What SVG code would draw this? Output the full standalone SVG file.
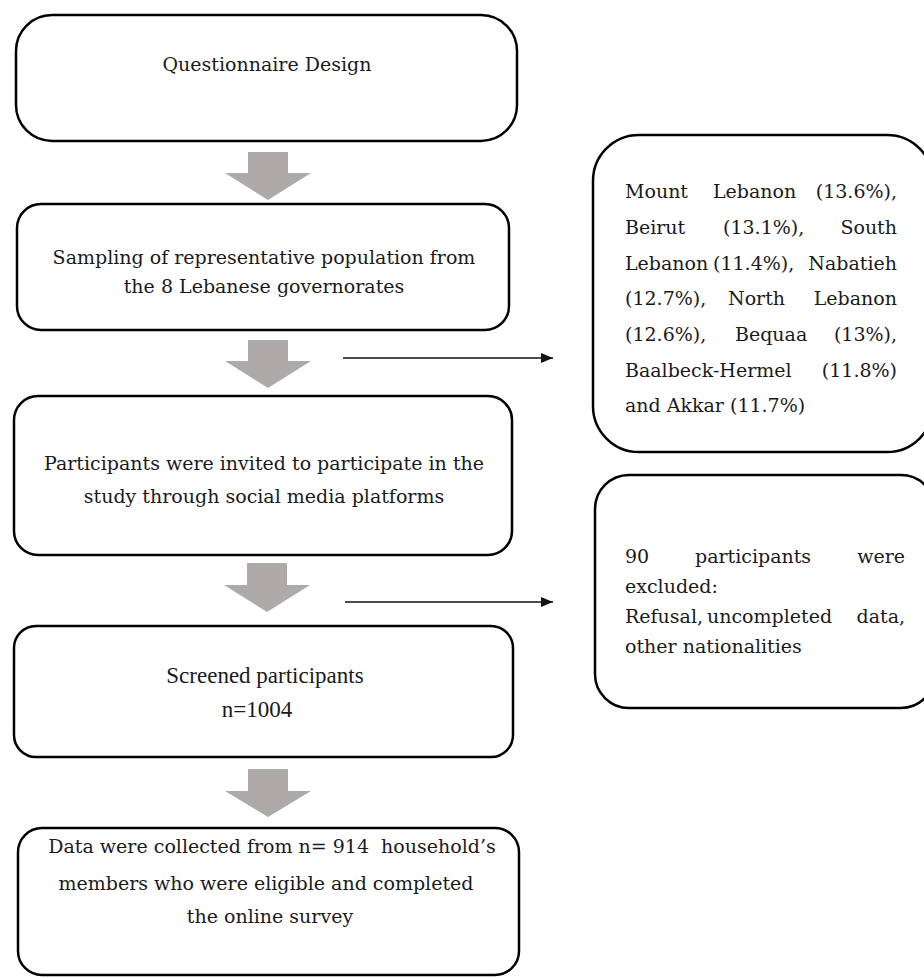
<svg xmlns="http://www.w3.org/2000/svg" width="924" height="978" viewBox="0 0 924 978">
<defs>
<marker id="ah" markerWidth="12" markerHeight="10" refX="12" refY="5" orient="auto" markerUnits="userSpaceOnUse">
<path d="M0,0 L12,5 L0,10 Z" fill="#111"/>
</marker>
<style>
.box{fill:#fff;stroke:#000;stroke-width:2.5}
.t{font-family:"DejaVu Serif",serif;font-size:19px;fill:#1a1a1a}
.tm{font-family:"Liberation Serif",serif;font-size:23px;fill:#1a1a1a}
.c{text-anchor:middle}
.e{text-anchor:end}
.ga{fill:#aeaaaa}
.hl{stroke:#111;stroke-width:1.6;fill:none}
</style>
</defs>
<rect width="924" height="978" fill="#fff"/>
<g id="connectors">
<polygon class="ga" points="248,152 288,152 288,173 311,173 268,200 225,173 248,173"/>
<polygon class="ga" points="248,340 288,340 288,361 311,361 268,388 225,361 248,361"/>
<polygon class="ga" points="247,563 287,563 287,585 310,585 267,612 224,585 247,585"/>
<polygon class="ga" points="248,769 288,769 288,791 311,791 268,817 225,791 248,791"/>
<line class="hl" x1="343" y1="358" x2="553" y2="358" marker-end="url(#ah)"/>
<line class="hl" x1="345" y1="602" x2="553" y2="602" marker-end="url(#ah)"/>
</g>
<g id="n1">
<rect class="box" x="16" y="15" width="501" height="126" rx="36"/>
<text class="t c" x="267" y="71">Questionnaire Design</text>
</g>
<g id="n2">
<rect class="box" x="17" y="204" width="492" height="126" rx="24"/>
<text class="t c" x="264" y="264">Sampling of representative population from</text>
<text class="t c" x="264" y="293">the 8 Lebanese governorates</text>
</g>
<g id="n3">
<rect class="box" x="14" y="396" width="498" height="159" rx="24"/>
<text class="t c" x="264" y="470">Participants were invited to participate in the</text>
<text class="t c" x="264" y="503">study through social media platforms</text>
</g>
<g id="n4">
<rect class="box" x="14" y="626" width="499" height="131" rx="22"/>
<text class="tm c" x="265" y="683">Screened participants</text>
<text class="tm c" x="257" y="717">n=1004</text>
</g>
<g id="n5">
<rect class="box" x="18" y="828" width="501" height="147" rx="24"/>
<text class="t c" x="272" y="853" style="white-space:pre">Data were collected from n= 914  household’s</text>
<text class="t c" x="266" y="890">members who were eligible and completed</text>
<text class="t c" x="270" y="923">the online survey</text>
</g>
<g id="n6">
<rect class="box" x="593" y="135" width="340" height="317" rx="46"/>
<text class="t" x="625" y="198">Mount</text><text class="t" x="713" y="198">Lebanon</text><text class="t e" x="897" y="198">(13.6%),</text>
<text class="t" x="625" y="234">Beirut</text><text class="t" x="723" y="234">(13.1%),</text><text class="t e" x="897" y="234">South</text>
<text class="t" x="625" y="270">Lebanon</text><text class="t" x="713" y="270">(11.4%),</text><text class="t e" x="897" y="270">Nabatieh</text>
<text class="t" x="625" y="305">(12.7%),</text><text class="t" x="728" y="305">North</text><text class="t e" x="897" y="305">Lebanon</text>
<text class="t" x="625" y="341">(12.6%),</text><text class="t" x="735" y="341">Bequaa</text><text class="t e" x="897" y="341">(13%),</text>
<text class="t" x="625" y="377">Baalbeck-Hermel</text><text class="t e" x="897" y="377">(11.8%)</text>
<text class="t" x="625" y="412">and Akkar (11.7%)</text>
</g>
<g id="n7">
<rect class="box" x="595" y="475" width="340" height="233" rx="34"/>
<text class="t" x="625" y="563">90</text><text class="t" x="695" y="563">participants</text><text class="t e" x="905" y="563">were</text>
<text class="t" x="625" y="593">excluded:</text>
<text class="t" x="625" y="623">Refusal,</text><text class="t" x="707" y="623">uncompleted</text><text class="t e" x="905" y="623">data,</text>
<text class="t" x="625" y="653">other nationalities</text>
</g>
</svg>
